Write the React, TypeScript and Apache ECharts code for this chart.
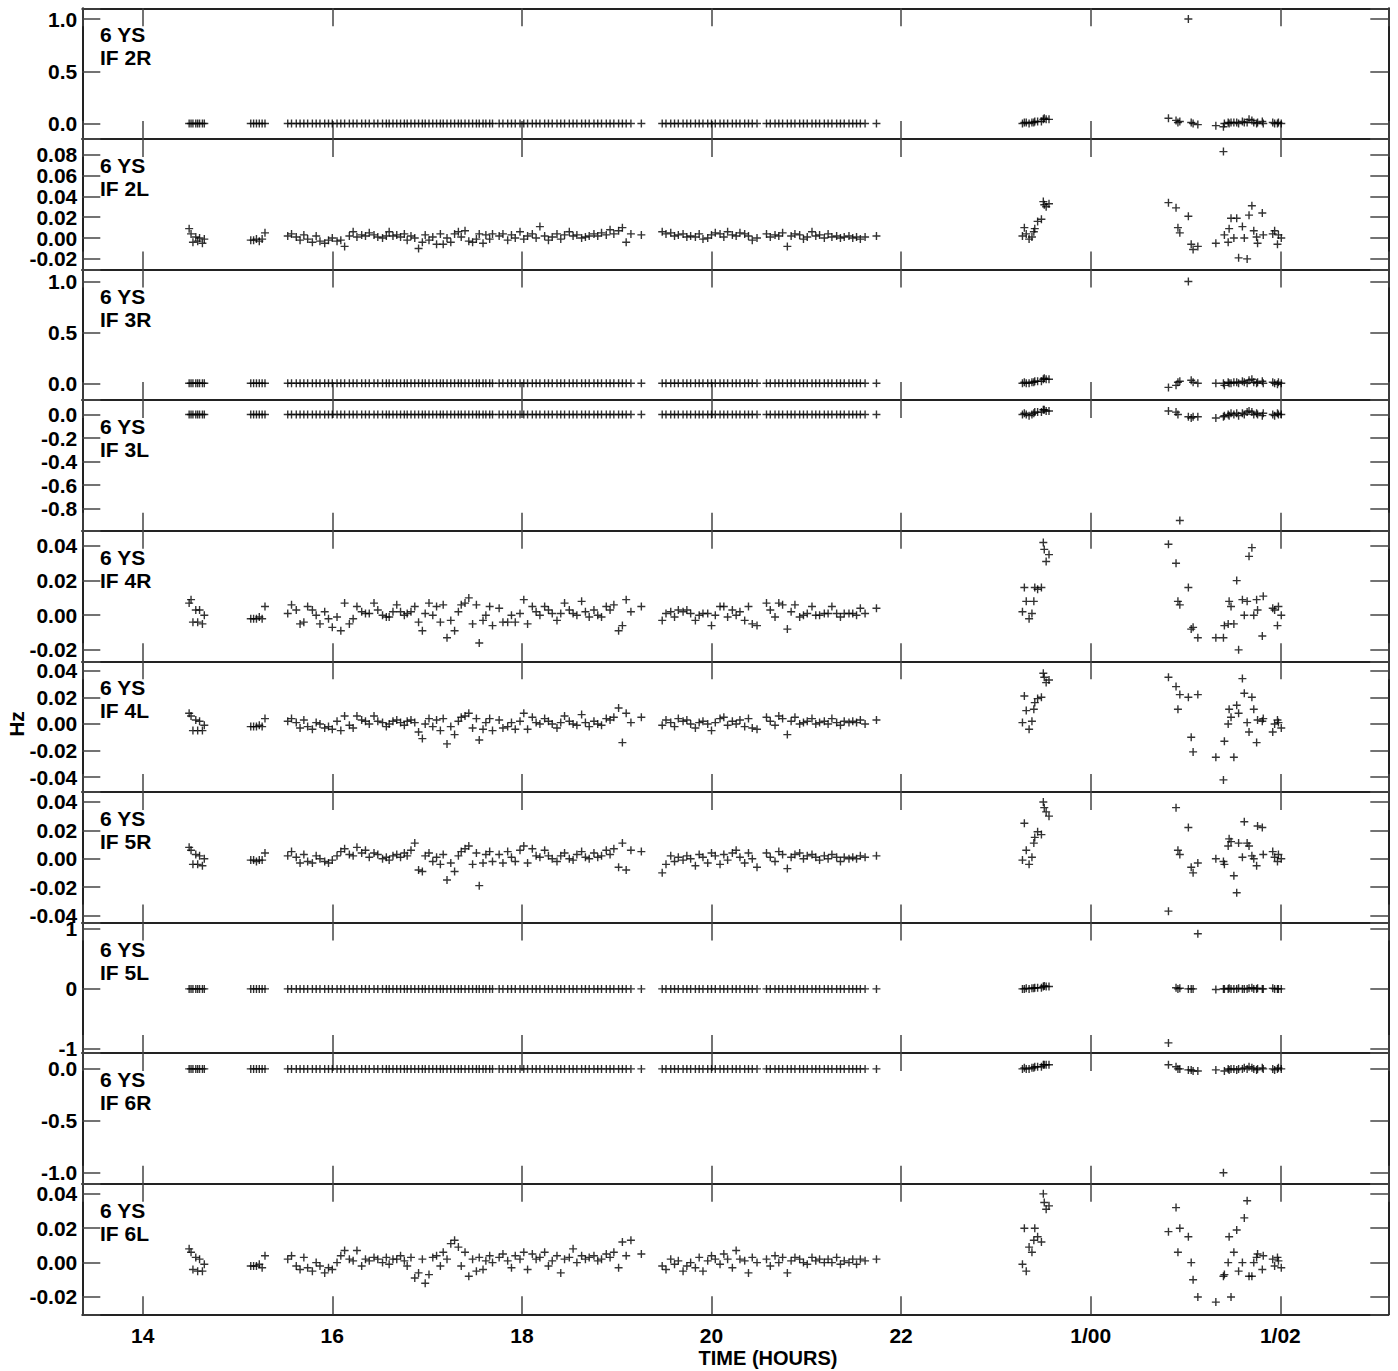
import React, { useEffect, useRef } from "react";
import * as echarts from "echarts";

// ---------- layout constants (page pixels) ----------
const FRAME_LEFT = 82.3;
const FRAME_RIGHT = 1388.3;
const FRAME_TOP = 8.3;
const PANEL_H = 130.6;
const X_MIN = 13.363;
const X_MAX = 27.139;
const FONT = '"Liberation Sans", Arial, Helvetica, sans-serif';

// ---------- data ----------
const stationLabel = "6 YS";
const panelNames = ["IF 2R", "IF 2L", "IF 3R", "IF 3L", "IF 4R", "IF 4L", "IF 5R", "IF 5L", "IF 6R", "IF 6L"];
const yMins = [-0.147, -0.0302, -0.165, -0.987, -0.0266, -0.051, -0.045, -1.07, -1.106, -0.0301];
const yMaxs = [1.103, 0.0952, 1.118, 0.122, 0.0488, 0.047, 0.0471, 1.107, 0.152, 0.0459];
const ySteps = [0.5, 0.02, 0.5, 0.2, 0.02, 0.02, 0.02, 1, 0.5, 0.02];
const yDecimals = [1, 2, 1, 1, 2, 2, 2, 0, 1, 2];
const ySplits = [3, 6, 3, 5, 4, 5, 5, 2, 3, 4];

// observation times (hours), grouped by scan block
const timeGroups = [
  [14.49, 14.51, 14.53, 14.56, 14.58, 14.60, 14.63, 14.65],
  [15.14, 15.17, 15.20, 15.23, 15.26, 15.29],
  [15.53, 15.57, 15.62, 15.66, 15.70, 15.74, 15.79, 15.83, 15.87, 15.92, 15.96, 16.00, 16.05, 16.09, 16.13, 16.18, 16.22, 16.26, 16.31, 16.35, 16.39, 16.44, 16.48],
  [16.53, 16.57, 16.60, 16.64],
  [16.68, 16.72, 16.76, 16.79, 16.83, 16.87, 16.91, 16.95, 16.98, 17.02, 17.06, 17.10, 17.14, 17.17, 17.21, 17.25, 17.29, 17.33, 17.36, 17.40, 17.44, 17.48, 17.52, 17.55],
  [17.59, 17.62, 17.66, 17.69],
  [17.76, 17.80, 17.85, 17.89, 17.93, 17.98, 18.02, 18.06, 18.11, 18.15, 18.19, 18.24, 18.28, 18.32, 18.37, 18.41, 18.45, 18.50, 18.54, 18.58, 18.63, 18.67, 18.71, 18.76, 18.80, 18.84, 18.89, 18.93, 18.97, 19.02, 19.06, 19.10, 19.15],
  [19.26],
  [19.48, 19.52, 19.57, 19.61, 19.65, 19.70, 19.74, 19.78, 19.83, 19.87, 19.91, 19.96, 20.00, 20.04, 20.09, 20.13, 20.17, 20.22, 20.26, 20.30, 20.35, 20.39, 20.43, 20.48],
  [20.58, 20.62, 20.67, 20.71, 20.75, 20.80, 20.84, 20.88, 20.93, 20.97, 21.01, 21.06, 21.10, 21.14, 21.19, 21.23, 21.27, 21.32, 21.36, 21.40, 21.45, 21.49],
  [21.53, 21.57, 21.62],
  [21.74],
  [23.28, 23.30, 23.32, 23.35, 23.38, 23.40, 23.41, 23.44, 23.48, 23.50, 23.51, 23.53, 23.56],
  [24.82, 24.90, 24.92, 24.94, 25.03, 25.06, 25.08, 25.13, 25.32, 25.40, 25.41, 25.45, 25.46, 25.48, 25.51, 25.54, 25.56, 25.60, 25.62, 25.65, 25.67, 25.70, 25.72, 25.75, 25.76, 25.81, 25.82, 25.92, 25.94, 25.97, 25.98, 26.01],
];

// values that read as zero on the wide-scale panels (blocks before 22h)
const flatEarly = [
  [0, 0, 0, 0, 0, 0, 0, 0],
  [0, 0, 0, 0, 0, 0],
  [0, 0, 0, 0, 0, 0, 0, 0, 0, 0, 0, 0, 0, 0, 0, 0, 0, 0, 0, 0, 0, 0, 0],
  [0, 0, 0, 0],
  [0, 0, 0, 0, 0, 0, 0, 0, 0, 0, 0, 0, 0, 0, 0, 0, 0, 0, 0, 0, 0, 0, 0, 0],
  [0, 0, 0, 0],
  [0, 0, 0, 0, 0, 0, 0, 0, 0, 0, 0, 0, 0, 0, 0, 0, 0, 0, 0, 0, 0, 0, 0, 0, 0, 0, 0, 0, 0, 0, 0, 0, 0],
  [0],
  [0, 0, 0, 0, 0, 0, 0, 0, 0, 0, 0, 0, 0, 0, 0, 0, 0, 0, 0, 0, 0, 0, 0, 0],
  [0, 0, 0, 0, 0, 0, 0, 0, 0, 0, 0, 0, 0, 0, 0, 0, 0, 0, 0, 0, 0, 0],
  [0, 0, 0],
  [0],
];

const if2R = [
  ...flatEarly,
  [0.00, 0.01, 0.01, 0.00, 0.01, 0.01, 0.02, 0.02, 0.02, 0.04, 0.05, 0.04, 0.04],
  [0.05, 0.03, 0.01, 0.02, 1.00, 0.01, 0.00, -0.01, -0.02, -0.03, 0.00, 0.01, 0.00, 0.01, 0.01, 0.01, 0.00, 0.02, 0.01, 0.01, 0.04, 0.03, 0.01, 0.00, 0.01, 0.02, 0.00, 0.01, 0.00, 0.00, 0.01, 0.00],
];

const if2L = [
  [0.009, 0.004, -0.004, 0.001, -0.003, 0.000, -0.005, -0.001],
  [-0.002, -0.002, -0.001, -0.003, -0.001, 0.005],
  [0.002, 0.004, 0.001, -0.002, 0.003, -0.001, -0.004, 0.002, -0.003, -0.005, -0.002, 0.000, -0.003, -0.002, -0.008, 0.002, 0.006, 0.001, 0.003, 0.002, 0.005, 0.003, 0.001],
  [0.000, 0.002, 0.006, 0.002],
  [0.003, 0.001, 0.004, -0.002, 0.002, 0.000, -0.010, -0.004, 0.003, -0.002, 0.001, -0.006, 0.004, -0.006, 0.000, -0.004, 0.004, 0.006, 0.001, 0.007, -0.003, -0.004, -0.001, 0.004],
  [-0.005, 0.003, -0.001, 0.004],
  [0.002, 0.004, -0.002, 0.003, 0.000, 0.006, -0.001, 0.002, 0.004, 0.000, 0.011, 0.002, -0.002, 0.001, 0.004, -0.001, 0.003, 0.006, 0.002, 0.003, 0.000, 0.001, 0.002, 0.004, 0.002, 0.005, 0.003, 0.008, 0.004, 0.007, 0.010, -0.004, 0.004],
  [0.003],
  [0.006, 0.004, 0.005, 0.002, 0.003, 0.004, 0.001, 0.002, 0.001, 0.004, -0.001, 0.000, 0.003, 0.005, 0.004, 0.001, 0.006, 0.003, 0.002, 0.005, 0.004, 0.002, -0.002, 0.000],
  [0.004, 0.001, 0.003, 0.002, 0.005, -0.008, 0.002, 0.004, 0.003, -0.001, 0.001, 0.006, 0.002, 0.003, 0.000, 0.004, 0.001, 0.002, 0.000, 0.001, 0.002, 0.000],
  [0.001, -0.001, 0.001],
  [0.002],
  [0.002, 0.010, 0.004, -0.001, 0.001, 0.006, 0.009, 0.016, 0.018, 0.035, 0.032, 0.030, 0.033],
  [0.034, 0.029, 0.010, 0.005, 0.021, -0.006, -0.011, -0.008, -0.005, 0.083, 0.003, -0.004, 0.009, 0.019, 0.000, 0.019, -0.019, 0.011, 0.000, -0.020, 0.022, 0.031, 0.007, 0.001, -0.005, 0.024, 0.003, 0.004, 0.007, -0.006, 0.003, 0.000],
];

const if3R = [
  ...flatEarly,
  [0.00, 0.01, 0.00, 0.00, 0.01, 0.01, 0.02, 0.02, 0.02, 0.04, 0.05, 0.04, 0.04],
  [-0.04, -0.02, 0.01, 0.02, 1.00, 0.03, 0.01, 0.00, 0.00, 0.00, -0.02, 0.01, 0.00, 0.00, 0.01, 0.01, 0.00, 0.02, 0.01, 0.00, 0.03, 0.04, 0.01, 0.00, 0.01, 0.02, 0.00, 0.01, 0.00, -0.01, 0.01, 0.00],
];

const if3L = [
  ...flatEarly,
  [0.00, 0.01, 0.00, -0.01, 0.00, 0.01, 0.02, 0.02, 0.02, 0.04, 0.04, 0.03, 0.03],
  [0.03, 0.02, 0.00, -0.90, -0.02, -0.03, -0.02, -0.02, -0.03, -0.02, -0.01, 0.00, -0.01, 0.01, 0.00, 0.01, -0.01, 0.01, 0.00, 0.02, 0.03, 0.02, 0.00, 0.01, 0.00, -0.01, 0.01, 0.00, -0.01, 0.01, 0.00, 0.00],
];

const if4R = [
  [0.007, 0.009, -0.004, 0.003, -0.004, 0.003, -0.005, 0.000],
  [-0.002, -0.002, -0.002, -0.001, -0.002, 0.005],
  [0.001, 0.006, 0.003, -0.005, -0.004, 0.005, 0.003, 0.000, -0.005, 0.002, -0.002, -0.007, -0.001, -0.009, 0.007, -0.005, -0.002, 0.005, 0.002, 0.001, 0.001, 0.007, 0.003],
  [0.000, -0.001, -0.001, 0.002],
  [0.006, 0.002, 0.000, 0.001, 0.002, 0.005, -0.004, -0.009, 0.001, 0.007, 0.000, 0.005, -0.004, 0.006, -0.013, -0.003, -0.009, 0.002, 0.006, 0.007, 0.010, -0.005, 0.006, -0.016],
  [-0.003, 0.000, 0.005, -0.006],
  [0.004, -0.004, -0.004, 0.000, -0.004, 0.001, 0.009, -0.005, 0.005, 0.002, 0.000, 0.005, 0.003, 0.001, -0.003, 0.001, 0.007, 0.003, 0.001, 0.000, 0.008, 0.002, -0.001, 0.003, 0.000, -0.001, 0.005, 0.003, 0.006, -0.009, -0.006, 0.009, 0.002],
  [0.005],
  [-0.003, 0.001, 0.002, -0.001, 0.003, 0.002, 0.003, 0.001, -0.003, 0.000, 0.001, 0.001, -0.006, 0.000, 0.005, 0.005, -0.001, 0.003, 0.000, 0.002, -0.003, 0.005, -0.005, -0.006],
  [0.007, 0.003, -0.001, 0.007, 0.006, -0.008, 0.002, 0.006, -0.001, 0.000, 0.001, 0.005, 0.000, 0.000, 0.001, 0.001, 0.005, 0.001, -0.001, 0.001, 0.001, 0.001],
  [0.000, 0.004, 0.001],
  [0.004],
  [0.002, 0.016, 0.008, -0.002, 0.001, 0.008, 0.016, 0.015, 0.016, 0.042, 0.038, 0.031, 0.035],
  [0.041, 0.030, 0.008, 0.006, 0.016, -0.008, -0.007, -0.013, -0.013, -0.013, -0.006, -0.005, 0.008, 0.005, -0.005, 0.020, -0.020, 0.009, 0.000, 0.008, 0.034, 0.039, 0.000, 0.009, 0.003, -0.012, 0.011, 0.004, 0.003, -0.006, 0.005, 0.000],
];

const if4L = [
  [0.008, 0.006, -0.005, 0.003, -0.005, 0.002, -0.005, -0.001],
  [-0.002, -0.002, -0.002, -0.001, -0.002, 0.004],
  [0.002, 0.004, 0.001, -0.003, 0.003, -0.002, -0.004, 0.001, 0.000, -0.003, -0.002, -0.004, 0.002, -0.005, 0.006, -0.001, -0.003, 0.006, 0.003, 0.002, 0.000, 0.006, 0.002],
  [0.001, -0.002, 0.000, 0.002],
  [0.003, 0.001, -0.001, 0.002, 0.003, 0.001, -0.006, -0.011, 0.000, 0.004, -0.002, 0.003, -0.005, 0.004, -0.015, -0.002, -0.008, 0.002, 0.005, 0.006, 0.008, -0.003, 0.004, -0.012],
  [-0.004, 0.001, 0.004, -0.005],
  [0.003, -0.003, -0.002, 0.001, -0.004, 0.002, 0.008, -0.004, 0.005, 0.001, 0.000, 0.004, 0.002, 0.000, -0.003, 0.001, 0.006, 0.002, 0.000, -0.001, 0.007, 0.001, -0.002, 0.002, 0.000, -0.001, 0.004, 0.003, 0.005, 0.012, -0.014, 0.008, 0.001],
  [0.005],
  [-0.001, 0.003, 0.001, -0.002, 0.004, 0.002, 0.003, 0.000, -0.003, 0.001, 0.002, 0.000, -0.005, 0.001, 0.004, 0.005, -0.001, 0.002, 0.000, 0.003, -0.002, 0.004, -0.003, -0.004],
  [0.005, 0.002, -0.001, 0.006, 0.004, -0.008, 0.002, 0.005, 0.000, 0.001, 0.002, 0.004, 0.000, 0.001, 0.002, 0.000, 0.004, 0.001, -0.001, 0.002, 0.001, 0.002],
  [0.001, 0.003, 0.000],
  [0.003],
  [0.001, 0.021, 0.010, -0.004, 0.002, 0.011, 0.016, 0.019, 0.020, 0.038, 0.035, 0.031, 0.033],
  [0.035, 0.028, 0.011, 0.022, 0.020, -0.010, -0.021, 0.022, -0.025, -0.042, -0.013, 0.000, 0.011, 0.005, -0.025, 0.014, 0.008, 0.034, 0.023, 0.001, -0.006, 0.020, 0.011, -0.014, 0.003, 0.002, 0.004, -0.006, 0.000, 0.003, 0.001, -0.003],
];

const if5R = [
  [0.008, 0.006, -0.004, 0.003, -0.004, 0.002, -0.005, 0.000],
  [-0.001, -0.001, -0.002, -0.001, -0.001, 0.004],
  [0.002, 0.005, 0.001, -0.003, 0.003, -0.002, -0.003, 0.002, 0.000, -0.002, -0.003, -0.001, 0.002, 0.005, 0.007, 0.003, 0.002, 0.008, 0.004, 0.006, 0.001, 0.004, 0.003],
  [0.000, 0.001, -0.001, 0.002],
  [0.003, 0.001, 0.004, 0.002, 0.006, 0.011, -0.008, -0.009, 0.002, 0.004, -0.002, 0.001, -0.004, 0.003, -0.015, -0.003, -0.009, 0.002, 0.005, 0.007, 0.009, -0.004, 0.004, -0.019],
  [-0.003, 0.003, 0.005, -0.002],
  [0.003, -0.003, 0.005, 0.001, -0.002, 0.006, 0.009, -0.003, 0.007, 0.002, 0.001, 0.006, 0.002, 0.000, -0.002, 0.002, 0.004, 0.000, -0.001, 0.003, 0.005, 0.001, 0.000, 0.004, 0.001, 0.002, 0.006, 0.003, 0.007, -0.006, 0.011, -0.008, 0.006],
  [0.005],
  [-0.010, -0.004, 0.002, -0.002, 0.001, -0.001, 0.002, 0.000, -0.005, 0.003, 0.001, -0.003, 0.004, 0.002, -0.004, 0.003, -0.001, 0.004, 0.006, 0.001, -0.003, 0.004, 0.000, -0.006],
  [0.004, 0.001, -0.002, 0.005, 0.003, -0.007, 0.001, 0.003, 0.004, 0.000, 0.002, 0.003, 0.001, -0.001, 0.002, 0.000, 0.003, 0.001, -0.002, 0.001, 0.000, 0.001],
  [0.000, 0.002, 0.001],
  [0.002],
  [-0.001, 0.025, 0.006, -0.004, 0.001, 0.011, 0.015, 0.019, 0.017, 0.040, 0.036, 0.033, 0.030],
  [-0.037, 0.036, 0.006, 0.003, 0.022, -0.006, -0.010, -0.003, 0.000, -0.002, -0.004, 0.009, 0.014, 0.012, -0.012, -0.024, 0.011, 0.001, 0.026, 0.011, 0.009, 0.002, 0.000, -0.005, 0.023, 0.022, 0.003, 0.005, 0.001, -0.002, 0.003, 0.000],
];

const if5L = [
  ...flatEarly,
  [0.00, 0.00, 0.01, 0.00, 0.01, 0.01, 0.02, 0.02, 0.02, 0.04, 0.05, 0.04, 0.04],
  [-0.90, 0.02, 0.00, 0.01, 0.00, 0.00, 0.00, 0.92, -0.01, 0.00, 0.00, 0.00, 0.01, 0.00, 0.00, 0.00, 0.01, 0.00, 0.00, 0.00, 0.01, 0.02, 0.00, 0.00, 0.01, 0.00, 0.00, 0.01, 0.00, 0.00, 0.00, 0.00],
];

const if6R = [
  ...flatEarly,
  [0.00, 0.01, 0.00, 0.00, 0.01, 0.01, 0.02, 0.02, 0.02, 0.04, 0.04, 0.04, 0.04],
  [0.04, 0.02, 0.00, 0.00, -0.01, -0.01, -0.02, -0.02, -0.01, -1.00, -0.02, 0.00, -0.01, 0.00, 0.00, -0.01, 0.00, 0.00, 0.01, 0.00, 0.02, 0.01, 0.00, -0.01, 0.00, 0.01, 0.00, 0.00, -0.01, 0.00, 0.01, 0.00],
];

const if6L = [
  [0.008, 0.006, -0.004, 0.003, -0.005, 0.002, -0.005, -0.001],
  [-0.002, -0.002, -0.002, -0.001, -0.003, 0.004],
  [0.002, 0.004, -0.002, -0.004, 0.003, -0.003, -0.005, 0.000, -0.002, -0.006, -0.003, -0.004, 0.000, 0.004, 0.007, 0.002, 0.001, 0.007, -0.002, 0.002, 0.001, 0.003, 0.002],
  [0.000, 0.003, -0.001, 0.002],
  [0.002, 0.004, 0.001, -0.002, 0.003, -0.009, -0.006, 0.002, -0.012, -0.007, 0.003, 0.004, -0.002, 0.006, 0.002, 0.011, 0.013, 0.009, -0.002, 0.006, -0.008, 0.002, -0.005, 0.003],
  [-0.004, 0.001, 0.004, 0.000],
  [0.003, 0.005, 0.001, -0.003, 0.004, 0.002, 0.006, -0.004, 0.005, 0.002, 0.003, 0.006, -0.002, 0.001, 0.004, -0.006, 0.002, 0.003, 0.008, 0.000, 0.004, 0.002, 0.003, 0.004, 0.001, 0.002, 0.005, 0.003, 0.006, -0.003, 0.012, 0.004, 0.013],
  [0.005],
  [-0.002, -0.004, 0.002, -0.001, 0.001, -0.005, -0.002, 0.000, -0.003, 0.003, -0.005, 0.001, 0.004, 0.002, -0.001, 0.005, 0.002, -0.003, 0.007, 0.002, 0.001, -0.006, 0.003, 0.000],
  [0.002, -0.002, 0.004, 0.000, 0.003, -0.006, 0.001, 0.003, 0.002, 0.000, -0.001, 0.003, 0.001, 0.002, 0.000, 0.002, 0.000, 0.003, -0.001, 0.001, 0.000, 0.002],
  [-0.001, 0.002, 0.001],
  [0.002],
  [-0.001, 0.020, -0.005, 0.009, 0.006, 0.013, 0.020, 0.015, 0.012, 0.040, 0.035, 0.031, 0.033],
  [0.018, 0.032, 0.006, 0.020, 0.015, 0.000, -0.010, -0.020, -0.023, -0.008, -0.007, 0.000, 0.015, -0.020, 0.006, 0.019, -0.005, 0.000, 0.026, 0.036, -0.008, -0.008, 0.000, 0.003, 0.005, -0.004, 0.004, 0.002, -0.002, 0.003, 0.001, -0.003],
];

const panelValues = [if2R, if2L, if3R, if3L, if4R, if4L, if5R, if5L, if6R, if6L];

// ---------- helpers ----------
function zipPanel(groups: number[][]) {
  const out: number[][] = [];
  for (let g = 0; g < timeGroups.length; g++) {
    const ts = timeGroups[g];
    const vs = groups[g] || [];
    const n = Math.min(ts.length, vs.length);
    for (let k = 0; k < n; k++) out.push([ts[k], vs[k]]);
  }
  return out;
}

function xLabel(v: number) {
  const r = Math.round(v);
  if (Math.abs(v - r) > 1e-6 || r % 2 !== 0) return "";
  return r >= 24 ? "1/" + String(r - 24).padStart(2, "0") : String(r);
}

function buildOption() {
  const grid: any[] = [];
  const xAxis: any[] = [];
  const yAxis: any[] = [];
  const series: any[] = [];
  const graphic: any[] = [];
  const labelFont = { color: "#000", fontWeight: "bold", fontSize: 21, fontFamily: FONT };
  const lineCol = "#222";
  const tickCol = "#444";

  for (let i = 0; i < panelNames.length; i++) {
    const top = FRAME_TOP + i * PANEL_H;
    grid.push({ left: FRAME_LEFT, top, width: FRAME_RIGHT - FRAME_LEFT, height: PANEL_H, containLabel: false });
    const last = i === panelNames.length - 1;
    const xBase = {
      type: "value",
      gridIndex: i,
      min: X_MIN,
      max: X_MAX,
      splitNumber: 7,
      splitLine: { show: false },
      axisLine: { show: true, onZero: false, lineStyle: { color: lineCol, width: 2 } },
      axisTick: { show: true, inside: true, length: 18, lineStyle: { color: tickCol, width: 1.5 } },
    };
    xAxis.push({
      ...xBase,
      position: "bottom",
      axisLabel: { show: last, ...labelFont, margin: 11, formatter: xLabel, showMinLabel: true, showMaxLabel: true },
    });
    xAxis.push({ ...xBase, position: "top", axisLabel: { show: false } });

    const step = ySteps[i];
    const dec = yDecimals[i];
    const yBase = {
      type: "value",
      gridIndex: i,
      min: yMins[i],
      max: yMaxs[i],
      splitNumber: ySplits[i],
      splitLine: { show: false },
      axisLine: { show: true, onZero: false, lineStyle: { color: lineCol, width: 2 } },
      axisTick: { show: true, inside: true, length: 18, lineStyle: { color: tickCol, width: 1.5 } },
    };
    yAxis.push({
      ...yBase,
      position: "left",
      axisLabel: {
        show: true,
        ...labelFont,
        margin: 5,
        showMinLabel: true,
        showMaxLabel: true,
        formatter: (v: number) => {
          const k = v / step;
          if (Math.abs(k - Math.round(k)) > 1e-6) return "";
          return (Math.round(k) * step).toFixed(dec);
        },
      },
    });
    yAxis.push({ ...yBase, position: "right", axisLabel: { show: false } });

    series.push({
      type: "scatter",
      xAxisIndex: 2 * i,
      yAxisIndex: 2 * i,
      data: zipPanel(panelValues[i]),
      symbol: "path://M5,0L5,10M0,5L10,5",
      symbolSize: 8,
      itemStyle: { color: "rgba(0,0,0,0)", borderColor: "#000", borderWidth: 1.4 },
      silent: true,
      clip: false,
    });

    graphic.push({
      type: "text",
      left: 100,
      top: top + 15,
      silent: true,
      style: { text: stationLabel + "\n" + panelNames[i], fill: "#000", font: "bold 21px " + FONT, lineHeight: 23 },
    });
  }

  graphic.push({
    type: "text",
    x: 16,
    y: 724,
    rotation: Math.PI / 2,
    silent: true,
    style: { text: "Hz", fill: "#000", font: "bold 21px " + FONT, align: "center", verticalAlign: "middle" },
  });
  graphic.push({
    type: "text",
    x: 768,
    y: 1358,
    silent: true,
    style: { text: "TIME (HOURS)", fill: "#000", font: "bold 20px " + FONT, align: "center", verticalAlign: "middle" },
  });

  return { animation: false, backgroundColor: "#fff", grid, xAxis, yAxis, series, graphic };
}

export default function App() {
  const ref = useRef<HTMLDivElement>(null);
  useEffect(() => {
    if (!ref.current) return;
    const chart = echarts.init(ref.current, undefined, { renderer: "svg" });
    chart.setOption(buildOption() as any);
    return () => chart.dispose();
  }, []);
  return (
    <div
      ref={ref}
      style={{ position: "absolute", left: 0, top: 0, width: 1398, height: 1371, background: "#fff" }}
    />
  );
}
